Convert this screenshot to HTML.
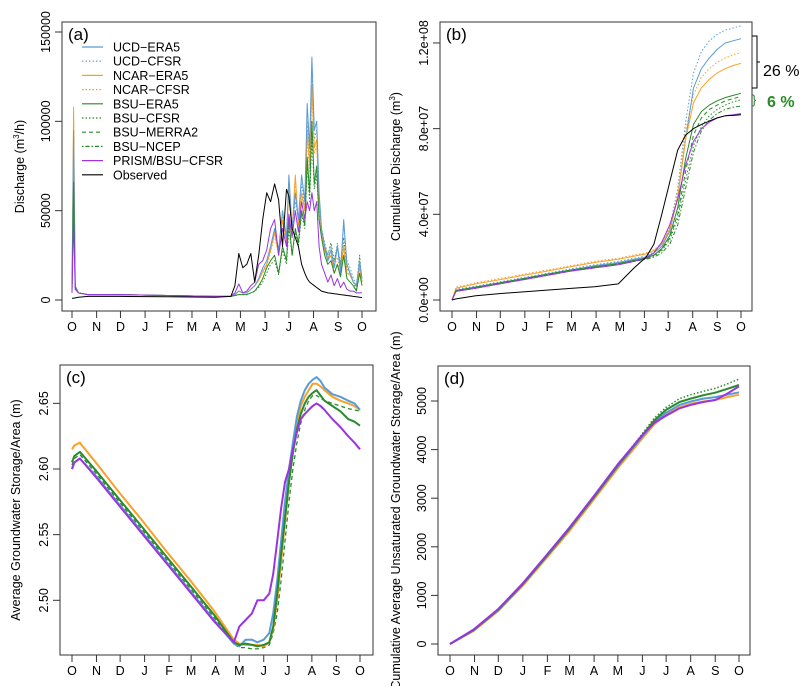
<!DOCTYPE html>
<html><head><meta charset="utf-8"><style>
html,body{margin:0;padding:0;background:#fff;}
svg{display:block;font-family:"Liberation Sans",Arial,sans-serif;}
</style></head><body>
<svg id="chart" width="805" height="686" viewBox="0 0 805 686" xmlns="http://www.w3.org/2000/svg"></svg>
<script>
// ---- shared data ----
const MONTH_DAYS=[0,31,61,92,123,151,182,212,243,273,304,335,365];
const MONTH_LABELS=['O','N','D','J','F','M','A','M','J','J','A','S','O'];
const LEGEND_NAMES=['UCD\u2212ERA5','UCD\u2212CFSR','NCAR\u2212ERA5','NCAR\u2212CFSR','BSU\u2212ERA5','BSU\u2212CFSR','BSU\u2212MERRA2','BSU\u2212NCEP','PRISM/BSU\u2212CFSR','Observed'];

// ---- panel (a): discharge (thousand m3/h) ----
const A_DAYS=[0,2,4,8,20,60,120,180,200,205,210,215,220,225,230,235,240,245,250,255,260,265,270,273,277,281,285,289,293,296,299,302,305,308,311,314,318,322,326,330,334,338,342,346,350,354,358,362,365];
const A_UCD_ERA5=[5,95,8,4,3,3,2.5,2,2,3,5,4,4,6,8,12,18,22,30,40,28,50,35,70,40,60,45,70,55,110,85,136,95,100,60,40,30,22,28,18,30,15,45,20,15,10,8,22,12];
const A_UCD_CFSR=[5,85,8,4,3,3,2.5,2,2,3,5,4,4,6,8,12,17,20,28,38,26,48,33,66,40,55,45,65,52,100,80,130,90,95,58,40,32,25,30,20,32,18,42,22,18,12,9,20,12];
const A_NCAR_ERA5=[5,108,8,4,3,3,2.5,2,2,3,5,4,4,6,8,11,16,20,28,38,26,45,33,65,38,70,42,60,50,95,75,120,85,90,55,38,28,22,25,15,20,13,30,15,14,10,8,18,10];
const A_NCAR_CFSR=[5,100,8,4,3,3,2.5,2,2,3,5,4,4,6,8,11,15,19,27,36,25,44,32,62,38,66,42,58,50,90,72,115,82,86,52,36,30,24,28,18,24,15,32,16,14,10,8,20,10];
const A_BSU_ERA5=[5,66,7,4,3,3,2.5,2,2,2.5,3,3,3,4,5,8,12,18,22,25,15,30,22,45,25,40,32,50,42,80,60,100,65,75,45,35,25,20,22,15,20,13,25,12,10,8,5,15,8];
const A_BSU_CFSR=[5,60,7,4,3,3,2.5,2,2,2.5,3,3,3,4,5,7,10,15,20,22,14,28,20,40,25,38,30,48,40,75,55,90,62,70,45,38,30,25,32,22,30,20,35,18,15,10,6,25,10];
const A_PRISM=[4,45,6,4,3,3,2.5,2,2,4,9,4,5,8,10,20,22,28,40,45,25,40,30,48,35,50,38,55,45,55,50,60,50,55,30,20,15,10,14,8,12,7,10,6,5,5,4,4,4];
const A_OBS=[1,1,1.2,1.5,2,2,1.8,1.5,2,8,26,18,20,26,10,25,45,60,55,65,56,30,62,58,40,35,30,20,15,12,10,9,8,7,6,5,4.5,4,3.8,3.5,3.3,3,2.8,2.5,2.3,2,1.8,1.5,1.4];
const A_TICKS=[0,50000,100000,150000];
const A_TICK_LABELS=['0','50000','100000','150000'];

// ---- panel (b): cumulative discharge (1e7 m3) ----
const B_DAYS=[0,5,30,60,90,120,150,180,210,230,245,255,265,275,285,295,305,315,325,335,345,355,365];
const B_UCD_ERA5=[0,0.45,0.6,0.8,1.0,1.2,1.4,1.6,1.75,1.9,2.0,2.2,2.5,3.2,4.8,7.5,9.9,10.8,11.3,11.7,12.0,12.1,12.2];
const B_UCD_CFSR=[0,0.5,0.65,0.85,1.05,1.25,1.45,1.65,1.8,1.95,2.05,2.25,2.6,3.4,5.2,8.3,10.6,11.6,12.1,12.4,12.6,12.7,12.8];
const B_NCAR_ERA5=[0,0.55,0.75,0.95,1.15,1.35,1.55,1.75,1.9,2.05,2.15,2.3,2.6,3.3,4.8,7.5,9.2,9.9,10.3,10.6,10.8,10.95,11.05];
const B_NCAR_CFSR=[0,0.6,0.8,1.0,1.2,1.4,1.6,1.8,1.95,2.1,2.2,2.35,2.65,3.4,5.0,7.9,9.6,10.4,10.8,11.1,11.3,11.45,11.55];
const B_BSU_ERA5=[0,0.45,0.6,0.8,1.0,1.2,1.4,1.55,1.7,1.85,1.95,2.1,2.4,3.0,4.3,6.6,8.2,8.8,9.1,9.3,9.45,9.55,9.65];
const B_BSU_CFSR=[0,0.45,0.6,0.8,1.0,1.2,1.4,1.55,1.7,1.85,1.95,2.05,2.3,2.8,3.8,5.6,7.2,8.1,8.6,8.9,9.1,9.25,9.35];
const B_BSU_MERRA2=[0,0.42,0.58,0.78,0.98,1.18,1.38,1.53,1.68,1.83,1.93,2.08,2.35,2.9,4.0,6.0,7.7,8.5,8.9,9.1,9.3,9.4,9.5];
const B_BSU_NCEP=[0,0.4,0.55,0.75,0.95,1.15,1.35,1.5,1.65,1.8,1.9,2.0,2.2,2.6,3.5,5.2,6.9,7.9,8.4,8.7,8.9,9.0,9.05];
const B_PRISM=[0,0.4,0.55,0.75,0.95,1.15,1.35,1.5,1.65,1.8,1.95,2.2,2.7,3.5,4.7,6.3,7.4,8.0,8.3,8.5,8.6,8.65,8.7];
const B_OBS=[0,0.05,0.2,0.3,0.38,0.46,0.54,0.62,0.75,1.5,2.0,2.6,4.0,5.5,7.0,7.7,8.0,8.2,8.35,8.5,8.6,8.62,8.65];
const B_TICKS=[0,4,8,12];
const B_TICK_LABELS=['0.0e+00','4.0e+07','8.0e+07','1.2e+08'];

// ---- panel (c): average groundwater storage (m) ----
const C_DAYS=[0,3,10,30,60,90,120,150,180,205,212,220,228,235,243,250,255,260,265,270,275,280,285,290,295,300,305,310,315,320,330,340,350,358,365];
const C_NCAR=[2.615,2.618,2.62,2.605,2.582,2.56,2.537,2.515,2.492,2.470,2.467,2.466,2.466,2.466,2.465,2.468,2.478,2.50,2.53,2.56,2.59,2.615,2.635,2.648,2.655,2.66,2.665,2.665,2.663,2.66,2.655,2.652,2.65,2.648,2.645];
const C_UCD=[2.600,2.605,2.608,2.595,2.573,2.551,2.529,2.507,2.485,2.467,2.465,2.470,2.470,2.468,2.470,2.475,2.490,2.515,2.545,2.575,2.60,2.62,2.64,2.652,2.66,2.665,2.668,2.670,2.667,2.662,2.657,2.655,2.652,2.65,2.645];
const C_BSU_ERA5=[2.605,2.61,2.613,2.599,2.577,2.555,2.533,2.511,2.489,2.468,2.466,2.467,2.466,2.465,2.466,2.468,2.48,2.505,2.535,2.562,2.59,2.612,2.630,2.642,2.650,2.655,2.658,2.66,2.656,2.652,2.648,2.644,2.638,2.636,2.633];
const C_BSU_MERRA2=[2.603,2.608,2.611,2.597,2.575,2.553,2.531,2.509,2.487,2.467,2.464,2.464,2.463,2.463,2.464,2.466,2.475,2.49,2.515,2.545,2.575,2.60,2.62,2.635,2.645,2.652,2.656,2.656,2.654,2.652,2.650,2.648,2.646,2.645,2.644];
const C_PRISM=[2.600,2.605,2.608,2.594,2.572,2.550,2.528,2.506,2.484,2.468,2.48,2.485,2.49,2.50,2.50,2.505,2.52,2.545,2.57,2.59,2.60,2.615,2.628,2.638,2.642,2.645,2.648,2.650,2.648,2.645,2.638,2.632,2.625,2.62,2.615];
const C_TICKS=[2.50,2.55,2.60,2.65];
const C_TICK_LABELS=['2.50','2.55','2.60','2.65'];

// ---- panel (d): cumulative unsaturated storage (m) ----
const D_DAYS=[0,30,61,92,123,151,182,212,243,258,273,290,304,320,335,350,365];
const D_PRISM=[0,300,720,1250,1850,2400,3050,3700,4300,4550,4700,4850,4920,4980,5020,5150,5300];
const D_NCAR=[0,270,680,1200,1790,2330,2980,3620,4230,4520,4720,4870,4940,4990,5020,5080,5130];
const D_UCD=[0,285,700,1225,1820,2370,3020,3660,4270,4560,4760,4920,4990,5050,5080,5130,5180];
const D_BSU_ERA5=[0,290,710,1235,1830,2380,3030,3680,4300,4600,4820,4980,5050,5120,5170,5250,5330];
const D_BSU_CFSR=[0,290,712,1240,1835,2385,3035,3690,4330,4650,4870,5050,5130,5200,5260,5350,5450];
const D_TICKS=[0,1000,2000,3000,4000,5000];
const D_TICK_LABELS=['0','1000','2000','3000','4000','5000'];

const BLUE='#5b9bd5', ORANGE='#f7a12a', GREEN='#2a8a2a', PURPLE='#9b34e0', BLACK='#000';

const svg=document.getElementById('chart');
const NS='http://www.w3.org/2000/svg';
function mk(tag,attrs,parent){const e=document.createElementNS(NS,tag);for(const k in attrs)e.setAttribute(k,attrs[k]);(parent||svg).appendChild(e);return e;}

function makePanel(p){
  const g=mk('g',{});
  
  
  const box=mk('rect',{x:p.x0,y:p.y0,width:p.x1-p.x0,height:p.y1-p.y0,fill:'none',stroke:'#333','stroke-width':1},g);
  
  
  const lab=mk('text',{x:p.x0+6,y:p.y0+18,'font-size':17,fill:'#000'},g);
  lab.textContent='('+p.id+')';
  
  
  // x axis
  const xa=mk('g',{},g);
  
  
  MONTH_DAYS.forEach((d,i)=>{
    const x=p.sx(d);
    mk('line',{x1:x,x2:x,y1:p.y1,y2:p.y1+7,stroke:'#333'},xa);
    const t=mk('text',{x:x,y:p.y1+20,'font-size':12.5,'text-anchor':'middle',fill:'#000'},xa);
    t.textContent=MONTH_LABELS[i];
    
    
  });
  // y axis
  const ya=mk('g',{},g);
  
  
  p.ticks.forEach((v,i)=>{
    const y=p.sy(v);
    mk('line',{x1:p.x0,x2:p.x0-7,y1:y,y2:y,stroke:'#333'},ya);
    const tx=p.x0-12;
    const t=mk('text',{x:tx,y:y,'font-size':12.5,'text-anchor':'middle',fill:'#000',transform:'rotate(-90 '+tx+' '+y+')'},ya);
    t.textContent=p.tickLabels[i];
    
    
  });
  const yt=mk('text',{x:p.titleX,y:(p.y0+p.y1)/2,'font-size':12.5,'text-anchor':'middle',fill:'#000',transform:'rotate(-90 '+p.titleX+' '+((p.y0+p.y1)/2)+')'},g);
  yt.innerHTML=p.title;
  
  
  const clip=mk('clipPath',{id:'clip-'+p.id},g);
  mk('rect',{x:p.x0,y:p.y0,width:p.x1-p.x0,height:p.y1-p.y0},clip);
  const sg=mk('g',{'clip-path':'url(#clip-'+p.id+')'},g);
  
  
  p.series.forEach(s=>{
    let d='';
    p.days.forEach((day,i)=>{d+=(i?'L':'M')+p.sx(day).toFixed(1)+','+p.sy(s.vals[i]).toFixed(1);});
    const path=mk('path',{d:d,fill:'none',stroke:s.color,'stroke-width':s.w||1,'stroke-dasharray':s.dash||'none','stroke-linejoin':'round'},sg);
    
    
  });
  return g;
}

makePanel({id:'a',x0:62,x1:376,y0:22,y1:311,sx:d=>72+d*290/365,sy:v=>300-v*268/150000,
  ticks:A_TICKS,tickLabels:A_TICK_LABELS,titleX:24,title:'Discharge (m<tspan font-size="8" dy="-5">3</tspan><tspan dy="5">/h)</tspan>',
  days:A_DAYS,series:[
  {name:'bsu-cfsr',vals:A_BSU_CFSR.map(v=>v*1000),color:GREEN,dash:'1.5,2'},
  {name:'ncar-cfsr',vals:A_NCAR_CFSR.map(v=>v*1000),color:ORANGE,dash:'1.5,2'},
  {name:'ucd-cfsr',vals:A_UCD_CFSR.map(v=>v*1000),color:BLUE,dash:'1.5,2'},
  {name:'ncar-era5',vals:A_NCAR_ERA5.map(v=>v*1000),color:ORANGE},
  {name:'ucd-era5',vals:A_UCD_ERA5.map(v=>v*1000),color:BLUE},
  {name:'bsu-era5',vals:A_BSU_ERA5.map(v=>v*1000),color:GREEN},
  {name:'prism-bsu-cfsr',vals:A_PRISM.map(v=>v*1000),color:PURPLE},
  {name:'observed',vals:A_OBS.map(v=>v*1000),color:BLACK}]});

makePanel({id:'b',x0:440,x1:752,y0:22,y1:311,sx:d=>452+d*289/365,sy:v=>300-v*21.42,
  ticks:B_TICKS,tickLabels:B_TICK_LABELS,titleX:400,title:'Cumulative Discharge (m<tspan font-size="8" dy="-5">3</tspan><tspan dy="5">)</tspan>',
  days:B_DAYS,series:[
  {name:'ucd-cfsr',vals:B_UCD_CFSR,color:BLUE,dash:'1.5,2'},
  {name:'ncar-cfsr',vals:B_NCAR_CFSR,color:ORANGE,dash:'1.5,2'},
  {name:'bsu-cfsr',vals:B_BSU_CFSR,color:GREEN,dash:'1.5,2'},
  {name:'bsu-merra2',vals:B_BSU_MERRA2,color:GREEN,dash:'4,3'},
  {name:'bsu-ncep',vals:B_BSU_NCEP,color:GREEN,dash:'1.5,2,4,2'},
  {name:'ucd-era5',vals:B_UCD_ERA5,color:BLUE},
  {name:'ncar-era5',vals:B_NCAR_ERA5,color:ORANGE},
  {name:'bsu-era5',vals:B_BSU_ERA5,color:GREEN},
  {name:'prism-bsu-cfsr',vals:B_PRISM,color:PURPLE},
  {name:'observed',vals:B_OBS,color:BLACK}]});

makePanel({id:'c',x0:60,x1:373,y0:365,y1:655,sx:d=>72+d*288/365,sy:v=>469-(v-2.6)*1313,
  ticks:C_TICKS,tickLabels:C_TICK_LABELS,titleX:20,title:'Average Groundwater Storage/Area (m)',
  days:C_DAYS,series:[
  {name:'bsu-merra2',vals:C_BSU_MERRA2,color:GREEN,dash:'4,3',w:1.3},
  {name:'ncar-era5',vals:C_NCAR,color:ORANGE,w:2},
  {name:'ucd-era5',vals:C_UCD,color:BLUE,w:2},
  {name:'bsu-era5',vals:C_BSU_ERA5,color:GREEN,w:2},
  {name:'prism-bsu-cfsr',vals:C_PRISM,color:PURPLE,w:2}]});

makePanel({id:'d',x0:438,x1:750,y0:366,y1:655,sx:d=>450+d*289/365,sy:v=>644-v*0.0486,
  ticks:D_TICKS,tickLabels:D_TICK_LABELS,titleX:400,title:'Cumulative Average Unsaturated Groundwater Storage/Area (m)',
  days:D_DAYS,series:[
  {name:'bsu-cfsr',vals:D_BSU_CFSR,color:GREEN,dash:'1.5,2',w:1.5},
  {name:'ncar-era5',vals:D_NCAR,color:ORANGE,w:2},
  {name:'ucd-era5',vals:D_UCD,color:BLUE,w:2},
  {name:'bsu-era5',vals:D_BSU_ERA5,color:GREEN,w:2},
  {name:'prism-bsu-cfsr',vals:D_PRISM,color:PURPLE,w:2}]});

// legend (panel a)
const LEG_STYLE=[[BLUE,''],[BLUE,'1.5,2'],[ORANGE,''],[ORANGE,'1.5,2'],[GREEN,''],[GREEN,'1.5,2'],[GREEN,'4,3'],[GREEN,'1.5,2,4,2'],[PURPLE,''],[BLACK,'']];
const leg=mk('g',{});


LEGEND_NAMES.forEach((n,i)=>{
  const y=47+i*14.2;
  const e=mk('g',{},leg);
  
  
  mk('line',{x1:82,x2:103,y1:y,y2:y,stroke:LEG_STYLE[i][0],'stroke-width':1.2,'stroke-dasharray':LEG_STYLE[i][1]||'none'},e);
  const t=mk('text',{x:113,y:y+4.5,'font-size':12.5,fill:'#000'},e);
  t.textContent=n;
});

// annotations panel b
const ann=mk('g',{});


mk('path',{d:'M752,36 H757 V88 H752 M757,62 H760',fill:'none',stroke:'#000'},ann);
const t26=mk('text',{x:763,y:76,'font-size':16,fill:'#000'},ann);
t26.textContent='26 %';


const br=mk('text',{x:752,y:104,'font-size':13,fill:GREEN},ann);
br.textContent='}';
const t6=mk('text',{x:767,y:107,'font-size':16,fill:GREEN,'font-weight':'bold'},ann);
t6.textContent='6 %';


</script>
</body></html>
